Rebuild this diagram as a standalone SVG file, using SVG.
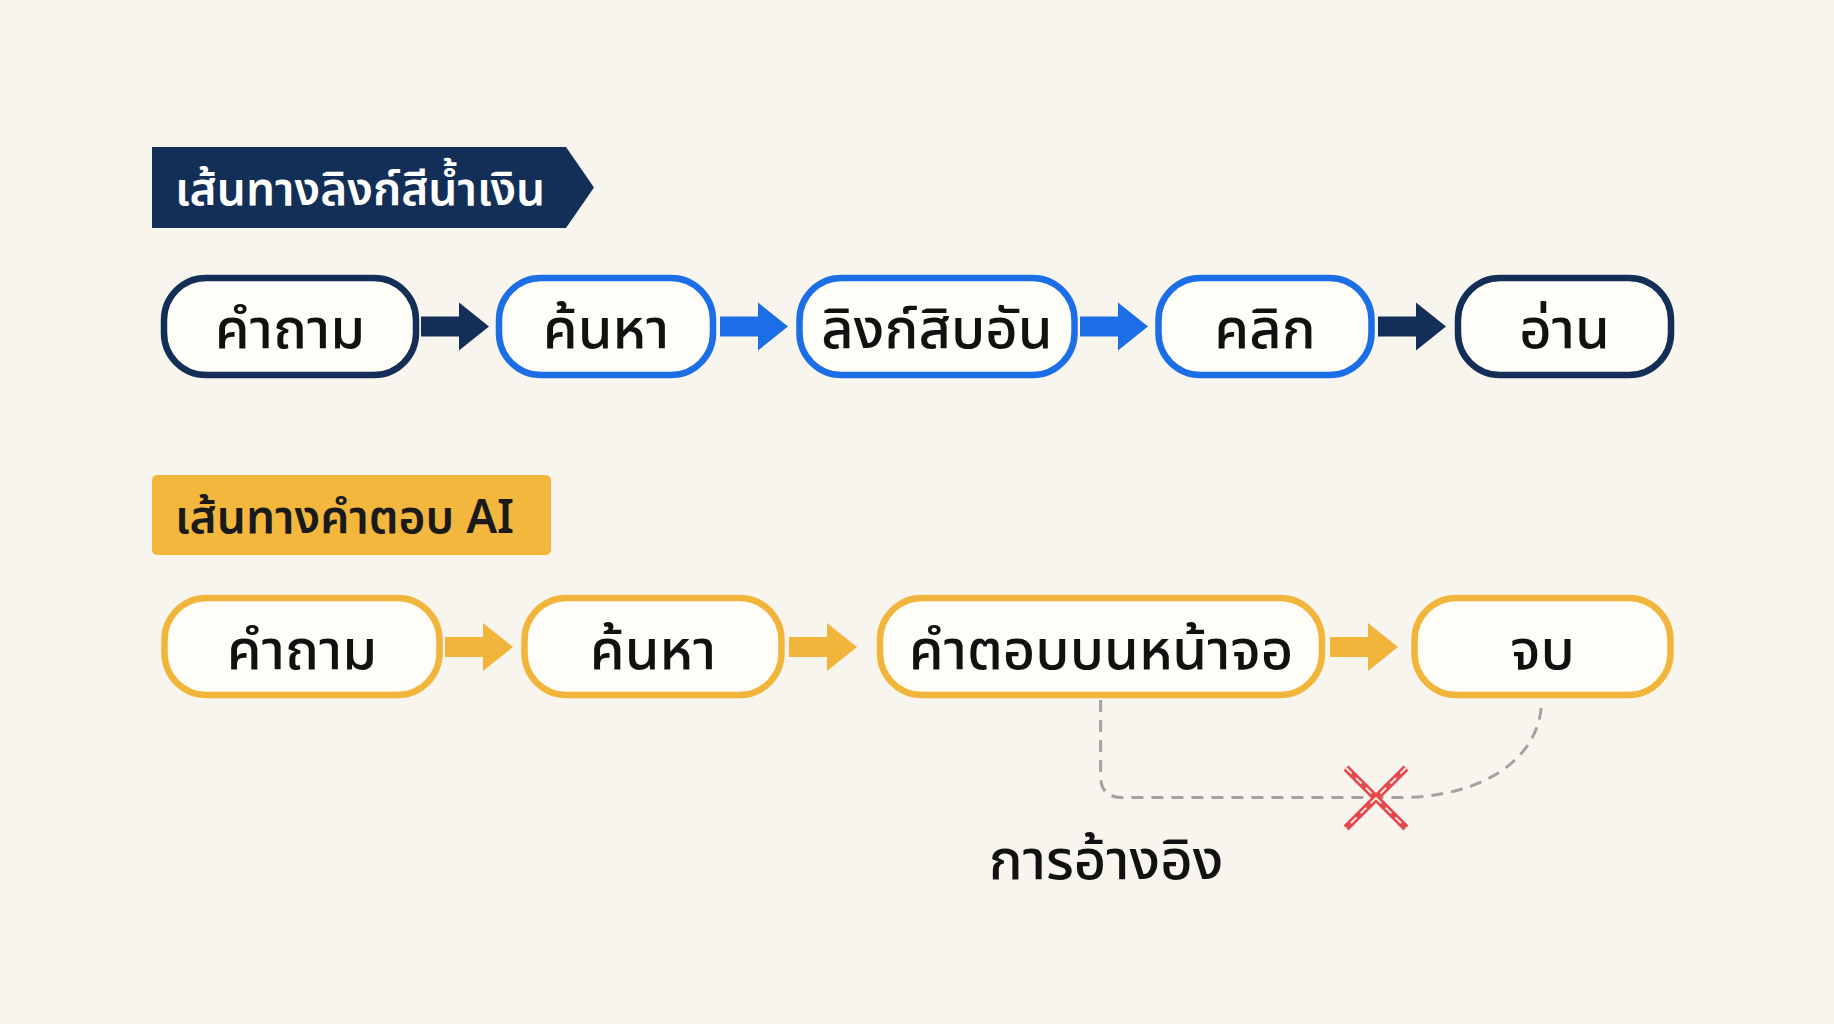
<svg xmlns="http://www.w3.org/2000/svg" width="1834" height="1024" viewBox="0 0 1834 1024">
<style>
.bg{fill:#f8f5ee}
.t{font-family:"Noto Sans Thai","Noto Sans Thai UI","Noto Sans","DejaVu Sans",sans-serif;}
.node{fill:#fffdf8;stroke-width:6.5}
.navy{stroke:#142f57}
.blue{stroke:#1c6ee6}
.yel{stroke:#f2b53c}
.lbl{font-size:56px;font-weight:500;fill:#111;text-anchor:middle}
.ban{font-size:46px;font-weight:600}
</style>
<defs>
<g id="arr"><path d="M0,-10 H38 V-24 L68,0 L38,24 V10 H0 Z"/></g>
</defs>
<rect class="bg" x="0" y="0" width="1834" height="1024"/>

<g id="banner-blue">
<path d="M152,147 H566 L594,187.5 L566,228 H152 Z" fill="#142f57"/>
<text class="t ban" x="175" y="205" fill="#ffffff">เส้นทางลิงก์สีน้ำเงิน</text>
</g>

<g id="connectors">
<use href="#arr" x="421" y="326.5" fill="#142f57"/>
<use href="#arr" x="720" y="326.5" fill="#1c6ee6"/>
<use href="#arr" x="1080" y="326.5" fill="#1c6ee6"/>
<use href="#arr" x="1378" y="326.5" fill="#142f57"/>
<use href="#arr" x="445" y="647" fill="#f2b53c"/>
<use href="#arr" x="789" y="647" fill="#f2b53c"/>
<use href="#arr" x="1330" y="647" fill="#f2b53c"/>
<path d="M1100.6,700 V776 Q1100.6,797.5 1122,797.5 H1400 C1480,797.5 1541.5,760 1541.5,700" fill="none" stroke="#a3a3a0" stroke-width="3" stroke-dasharray="12 8"/>
</g>

<g id="n1"><rect class="node navy" x="164" y="278" width="252" height="97" rx="42"/><text class="t lbl" x="290" y="348">คำถาม</text></g>
<g id="n2"><rect class="node blue" x="499" y="278" width="214" height="97" rx="42"/><text class="t lbl" x="606" y="348">ค้นหา</text></g>
<g id="n3"><rect class="node blue" x="799.5" y="278" width="275" height="97" rx="42"/><text class="t lbl" x="937" y="348">ลิงก์สิบอัน</text></g>
<g id="n4"><rect class="node blue" x="1158.5" y="278" width="213" height="97" rx="42"/><text class="t lbl" x="1265" y="348">คลิก</text></g>
<g id="n5"><rect class="node navy" x="1458" y="278" width="213" height="97" rx="42"/><text class="t lbl" x="1564.5" y="348">อ่าน</text></g>

<g id="banner-ai">
<rect x="152" y="475" width="399" height="80" rx="5" fill="#f4b73e"/>
<text class="t ban" x="175" y="533" fill="#1a1a1a">เส้นทางคำตอบ AI</text>
</g>

<g id="m1"><rect class="node yel" x="164.5" y="598" width="275" height="97" rx="42"/><text class="t lbl" x="302" y="669">คำถาม</text></g>
<g id="m2"><rect class="node yel" x="524.5" y="598" width="257" height="97" rx="42"/><text class="t lbl" x="653" y="669">ค้นหา</text></g>
<g id="m3"><rect class="node yel" x="880" y="598" width="442" height="97" rx="42"/><text class="t lbl" x="1101" y="669">คำตอบบนหน้าจอ</text></g>
<g id="m4"><rect class="node yel" x="1414.5" y="598" width="256" height="97" rx="42"/><text class="t lbl" x="1542.5" y="669">จบ</text></g>

<g id="cross">
<path d="M1346,768 L1406,828 M1406,768 L1346,828" stroke="#e5484d" stroke-width="7" fill="none"/>
<path d="M1346,768 L1406,828 M1406,768 L1346,828" stroke="#fbe3e0" stroke-width="2" stroke-dasharray="8 6" fill="none"/>
</g>

<g id="ref-label">
<text class="t" x="1106" y="879" font-size="56" font-weight="500" fill="#111" text-anchor="middle">การอ้างอิง</text>
</g>
</svg>
